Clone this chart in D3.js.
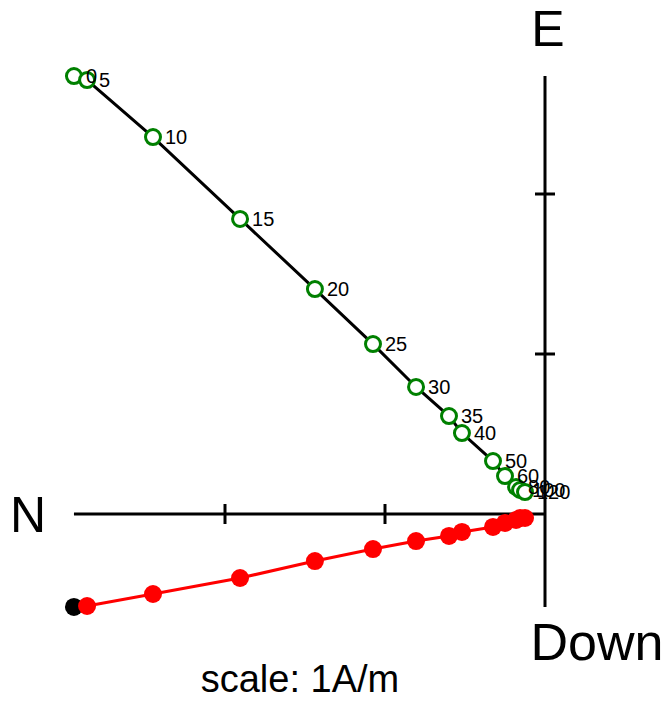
<!DOCTYPE html>
<html><head><meta charset="utf-8">
<script src="https://cdn.jsdelivr.net/npm/d3@7"></script>
<style>body{margin:0;background:#fff}svg{display:block;font-family:"Liberation Sans",Arial,Helvetica,sans-serif}</style>
</head><body>
<script>
// demagnetization steps
const steps = ["0","5","10","15","20","25","30","35","40","50","60","80","100","120"];
// horizontal projection components (A/m)
const north = [2.944,2.862,2.450,1.906,1.438,1.075,0.806,0.600,0.519,0.325,0.250,0.181,0.156,0.125];
const east  = [2.737,2.712,2.356,1.844,1.406,1.062,0.794,0.612,0.506,0.331,0.237,0.169,0.150,0.137];
// vertical projection (down component, A/m)
const down  = [0.581,0.575,0.500,0.400,0.294,0.219,0.169,0.137,0.112,0.081,0.056,0.037,0.025,0.025];
const axisTicks = [1,2];
const axisNames = {h:"N", up:"E", down:"Down"};
const scaleText = "scale: 1A/m";

const W=667,H=703;
const svg=d3.select("body").append("svg").attr("width",W).attr("height",H);
const x=d3.scaleLinear().domain([0,1]).range([545,385]);       // N to the left
const yE=d3.scaleLinear().domain([0,1]).range([514,354]);      // E up
const yD=d3.scaleLinear().domain([0,1]).range([514,674]);      // Down

const nMax=d3.max(north), eMax=d3.max(east), dMax=d3.max(down);
// axes
svg.append("line").attr("x1",x(0)).attr("x2",x(nMax)).attr("y1",yE(0)).attr("y2",yE(0)).attr("stroke","#000").attr("stroke-width",3);
svg.append("line").attr("x1",x(0)).attr("x2",x(0)).attr("y1",yE(eMax)).attr("y2",yD(dMax)).attr("stroke","#000").attr("stroke-width",3);
axisTicks.forEach(t=>{
  svg.append("line").attr("x1",x(t)).attr("x2",x(t)).attr("y1",yE(0)-10).attr("y2",yE(0)+10).attr("stroke","#000").attr("stroke-width",3);
  svg.append("line").attr("x1",x(0)-10).attr("x2",x(0)+10).attr("y1",yE(t)).attr("y2",yE(t)).attr("stroke","#000").attr("stroke-width",3);
});
svg.append("text").attr("x",28).attr("y",532).attr("text-anchor","middle").attr("font-size",50).text(axisNames.h);
svg.append("text").attr("x",548).attr("y",46).attr("text-anchor","middle").attr("font-size",50).text(axisNames.up);
svg.append("text").attr("x",597).attr("y",660).attr("text-anchor","middle").attr("font-size",52).text(axisNames.down);
svg.append("text").attr("x",300).attr("y",692).attr("text-anchor","middle").attr("font-size",38).text(scaleText);

const idx=d3.range(steps.length);
// vertical projection
svg.append("path").datum(idx).attr("fill","none").attr("stroke","red").attr("stroke-width",3)
  .attr("d",d3.line().x(i=>x(north[i])).y(i=>yD(down[i])));
svg.selectAll("circle.v").data(idx).join("circle").attr("class","v")
  .attr("cx",i=>x(north[i])).attr("cy",i=>yD(down[i])).attr("r",9)
  .attr("fill",i=>i===0?"#000":"red");
// horizontal projection
svg.append("path").datum(idx).attr("fill","none").attr("stroke","#000").attr("stroke-width",3)
  .attr("d",d3.line().x(i=>x(north[i])).y(i=>yE(east[i])));
svg.selectAll("circle.h").data(idx).join("circle").attr("class","h")
  .attr("cx",i=>x(north[i])).attr("cy",i=>yE(east[i])).attr("r",7.5)
  .attr("fill","#fff").attr("stroke","green").attr("stroke-width",3);
svg.selectAll("text.lab").data(idx).join("text").attr("class","lab")
  .attr("x",i=>x(north[i])+12).attr("y",i=>yE(east[i])+7).attr("font-size",20).attr("fill","#000")
  .text(i=>steps[i]);
</script>
</body></html>
